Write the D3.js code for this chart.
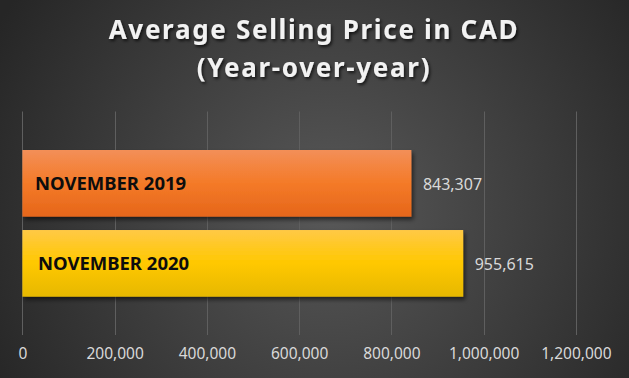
<!DOCTYPE html>
<html><head><meta charset="utf-8">
<script src="https://cdn.jsdelivr.net/npm/d3@7"></script>
<style>html,body{margin:0;padding:0;background:#3a3a3a;}svg{display:block;}</style>
</head><body>
<script>
const categories = ["NOVEMBER 2019", "NOVEMBER 2020"];
const values = [843307, 955615];
const tickValues = [0, 200000, 400000, 600000, 800000, 1000000, 1200000];
const titleLines = ["Average Selling Price in CAD", "(Year-over-year)"];

const W = 629, H = 378;
const svg = d3.select("body").append("svg").attr("width", W).attr("height", H);
const defs = svg.append("defs");

const bg = defs.append("radialGradient").attr("id", "bg")
  .attr("gradientUnits", "userSpaceOnUse").attr("cx", 330).attr("cy", 210).attr("r", 380);
bg.append("stop").attr("offset", "0%").attr("stop-color", "#585858");
bg.append("stop").attr("offset", "100%").attr("stop-color", "#262626");

function grad(id, stops) {
  const g = defs.append("linearGradient").attr("id", id).attr("x1", 0).attr("y1", 0).attr("x2", 0).attr("y2", 1);
  stops.forEach(s => g.append("stop").attr("offset", s[0]).attr("stop-color", s[1]));
}
grad("g0", [["0%", "#f38f58"], ["50%", "#f47a28"], ["100%", "#e5661a"]]);
grad("g1", [["0%", "#ffc946"], ["50%", "#ffc800"], ["100%", "#e6b800"]]);
const fills = ["url(#g0)", "url(#g1)"];

const sh = defs.append("filter").attr("id", "sh").attr("x", "-10%").attr("y", "-20%").attr("width", "130%").attr("height", "160%");
sh.append("feDropShadow").attr("dx", 2).attr("dy", 3).attr("stdDeviation", 2.2).attr("flood-color", "#000").attr("flood-opacity", 0.55);
const tsh = defs.append("filter").attr("id", "tsh").attr("x", "-10%").attr("y", "-30%").attr("width", "130%").attr("height", "180%");
tsh.append("feDropShadow").attr("dx", 1.5).attr("dy", 2).attr("stdDeviation", 1.5).attr("flood-color", "#000").attr("flood-opacity", 0.7);

svg.append("rect").attr("width", W).attr("height", H).attr("fill", "url(#bg)");

const x = d3.scaleLinear().domain([0, 1200000]).range([22.4, 575.9]);
const y = d3.scaleBand().domain(categories).range([150, 296.7]).paddingInner(0.1667).paddingOuter(0);

// gridlines
svg.append("g").selectAll("line").data(tickValues).join("line")
  .attr("x1", d => Math.round(x(d)) + 0.5).attr("x2", d => Math.round(x(d)) + 0.5)
  .attr("y1", 111.5).attr("y2", 335)
  .attr("stroke", "#5f5f5f").attr("stroke-width", 1);

// axis labels
const fmt = d3.format(",");
const axis = d3.axisBottom(x).tickValues(tickValues).tickFormat(fmt).tickSize(0).tickPadding(0);
const ag = svg.append("g").attr("transform", "translate(0,347.5)").call(axis);
ag.select(".domain").remove();
ag.selectAll("text").attr("fill", "#d9d9d9").attr("font-family", "'Noto Sans', sans-serif").attr("font-size", 15.5);

// bars
svg.append("g").selectAll("rect").data(values).join("rect")
  .attr("x", x(0)).attr("y", (d, i) => y(categories[i]))
  .attr("width", d => x(d) - x(0)).attr("height", y.bandwidth())
  .attr("fill", (d, i) => fills[i]).attr("filter", "url(#sh)");

// category labels inside bars
svg.append("g").selectAll("text").data(categories).join("text")
  .attr("x", (d, i) => x(0) + 12.5 + i * 3)
  .attr("y", d => y(d) + y.bandwidth() / 2 + 7)
  .attr("font-family", "'Noto Sans', sans-serif").attr("font-weight", "bold").attr("font-size", 18.5)
  .attr("fill", "#0d0d0d").text(d => d);

// value labels
svg.append("g").selectAll("text").data(values).join("text")
  .attr("x", d => x(d) + 11.5)
  .attr("y", (d, i) => y(categories[i]) + y.bandwidth() / 2 + 6.2)
  .attr("font-family", "'Noto Sans', sans-serif").attr("font-size", 16)
  .attr("fill", "#d9d9d9").text(d => fmt(d));

// title
const tg = svg.append("g").attr("filter", "url(#tsh)");
const fs = 26;
const t1 = tg.append("text").attr("x", 314).attr("y", 38.5).attr("text-anchor", "middle")
  .attr("font-family", "'Noto Sans', sans-serif").attr("font-weight", "bold").attr("font-size", fs)
  .attr("fill", "#f2f2f2").text(titleLines[0]);
const t2 = tg.append("text").attr("x", 314).attr("y", 76.5).attr("text-anchor", "middle")
  .attr("font-family", "'Noto Sans', sans-serif").attr("font-weight", "bold").attr("font-size", fs)
  .attr("fill", "#f2f2f2").text(titleLines[1]);
// fit letter spacing so line 1 spans the same width as the reference title
const w1 = t1.node().getComputedTextLength();
const ls = Math.max(0, Math.min(3, (409 - w1) / (titleLines[0].length - 1)));
t1.attr("letter-spacing", ls);
t2.attr("letter-spacing", ls);
</script>
</body></html>
